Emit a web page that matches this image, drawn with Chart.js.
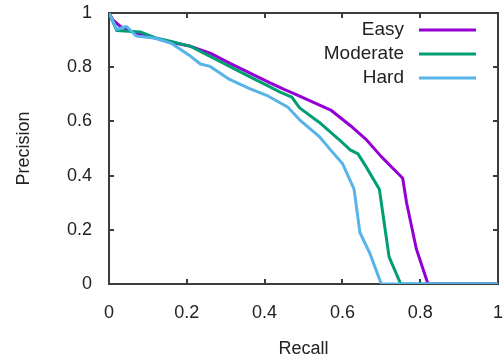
<!DOCTYPE html>
<html>
<head>
<meta charset="utf-8">
<script src="https://cdn.jsdelivr.net/npm/chart.js@4"></script>
<style>
  html, body { margin: 0; padding: 0; background: #fff; }
  #wrap { width: 503px; height: 361px; }
</style>
</head>
<body>
<div id="wrap"><canvas id="prChart" width="503" height="361"></canvas></div>
<script>
// Precision / recall curves
const easyRecall = [0, 0.01, 0.03, 0.06, 0.10, 0.15, 0.21, 0.26, 0.31, 0.36, 0.41, 0.45, 0.48, 0.51, 0.57, 0.62, 0.66, 0.70, 0.745, 0.755, 0.765, 0.79, 0.82, 1.0];
const easyPrecision = [1.0, 0.975, 0.95, 0.93, 0.915, 0.895, 0.877, 0.852, 0.815, 0.78, 0.745, 0.718, 0.70, 0.68, 0.642, 0.585, 0.535, 0.47, 0.405, 0.39, 0.30, 0.13, 0.0, 0.0];

const moderateRecall = [0, 0.02, 0.08, 0.12, 0.16, 0.21, 0.26, 0.31, 0.36, 0.41, 0.44, 0.47, 0.49, 0.54, 0.59, 0.62, 0.64, 0.66, 0.695, 0.705, 0.72, 0.75, 1.0];
const moderatePrecision = [1.0, 0.935, 0.93, 0.908, 0.895, 0.877, 0.84, 0.803, 0.766, 0.73, 0.708, 0.69, 0.65, 0.597, 0.535, 0.495, 0.48, 0.435, 0.35, 0.25, 0.10, 0.0, 0.0];

const hardRecall = [0, 0.02, 0.045, 0.07, 0.12, 0.16, 0.21, 0.235, 0.26, 0.31, 0.36, 0.41, 0.46, 0.49, 0.54, 0.57, 0.60, 0.63, 0.645, 0.67, 0.70, 1.0];
const hardPrecision = [1.0, 0.94, 0.95, 0.915, 0.907, 0.888, 0.84, 0.812, 0.803, 0.755, 0.722, 0.693, 0.652, 0.606, 0.545, 0.494, 0.445, 0.35, 0.19, 0.115, 0.0, 0.0];

const xTickValues = [0, 0.2, 0.4, 0.6, 0.8, 1];
const yTickValues = [0, 0.2, 0.4, 0.6, 0.8, 1];

const seriesNames = ['Easy', 'Moderate', 'Hard'];
const seriesColors = ['#9400d3', '#009e73', '#56b4e9'];

function toPoints(xs, ys) {
    return xs.map((x, i) => ({ x: x, y: ys[i] }));
}

const frameColor = '#3c3c3c';
const textColor = '#222';
const fontFamily = '"Liberation Sans", Arial, sans-serif';
const tickFont = { family: fontFamily, size: 18 };

// gnuplot style border with inward ticks on all four sides, snapped to whole pixels
function drawFrame(chart) {
    const c = chart.ctx;
    const a = chart.chartArea;
    const sx = chart.scales.x;
    const sy = chart.scales.y;
    const t = 4;
    const L = Math.round(a.left) - 1;
    const R = Math.round(a.right) - 1;
    const T = Math.round(a.top) - 1;
    const B = Math.round(a.bottom) - 1;
    c.save();
    c.fillStyle = frameColor;
    c.fillRect(L, T, R - L + 2, 2);
    c.fillRect(L, B, R - L + 2, 2);
    c.fillRect(L, T, 2, B - T + 2);
    c.fillRect(R, T, 2, B - T + 2);
    xTickValues.forEach(v => {
        const px = Math.round(sx.getPixelForValue(v)) - 1;
        c.fillRect(px, B - t, 2, t);
        c.fillRect(px, T + 2, 2, t);
    });
    yTickValues.forEach(v => {
        const py = Math.round(sy.getPixelForValue(v)) - 1;
        c.fillRect(L + 2, py, t, 2);
        c.fillRect(R - t, py, t, 2);
    });
    c.restore();
}

// legend: right aligned text followed by a line sample
function drawKey(chart) {
    const c = chart.ctx;
    c.save();
    c.font = '19px ' + fontFamily;
    c.textAlign = 'right';
    c.textBaseline = 'middle';
    chart.data.datasets.forEach((ds, i) => {
        const y = 30 + i * 24;
        c.fillStyle = textColor;
        c.fillText(ds.label, 404, y);
        c.strokeStyle = ds.borderColor;
        c.lineWidth = 3.2;
        c.beginPath();
        c.moveTo(419, y);
        c.lineTo(476, y);
        c.stroke();
    });
    c.restore();
}

const gnuplotLook = {
    id: 'gnuplotLook',
    beforeDatasetsDraw(chart) {
        drawFrame(chart);
    },
    afterDatasetsDraw(chart) {
        drawKey(chart);
    }
};

function noOverhang(scale) {
    scale.paddingTop = 0;
    scale.paddingBottom = 0;
    scale.paddingLeft = 0;
    scale.paddingRight = 0;
}

const ctx = document.getElementById('prChart').getContext('2d');
new Chart(ctx, {
    type: 'line',
    data: {
        datasets: [
            { label: seriesNames[0], data: toPoints(easyRecall, easyPrecision), borderColor: seriesColors[0], order: 3 },
            { label: seriesNames[1], data: toPoints(moderateRecall, moderatePrecision), borderColor: seriesColors[1], order: 2 },
            { label: seriesNames[2], data: toPoints(hardRecall, hardPrecision), borderColor: seriesColors[2], order: 1 }
        ]
    },
    options: {
        responsive: false,
        animation: false,
        devicePixelRatio: 1,
        layout: { padding: { top: 13, right: 5, left: 0, bottom: 0 } },
        elements: {
            line: { borderWidth: 3, tension: 0, fill: false, borderJoinStyle: 'round' },
            point: { radius: 0 }
        },
        plugins: {
            legend: { display: false },
            tooltip: { enabled: false }
        },
        scales: {
            x: {
                type: 'linear',
                min: 0,
                max: 1,
                grid: { display: false, drawTicks: false },
                border: { display: false },
                afterBuildTicks: (scale) => { scale.ticks = xTickValues.map(v => ({ value: v })); },
                afterFit: (scale) => { scale.height = 77; noOverhang(scale); },
                ticks: {
                    padding: 18,
                    color: textColor,
                    font: tickFont,
                    maxRotation: 0,
                    autoSkip: false,
                    callback: (v) => String(v)
                },
                title: {
                    display: true,
                    text: 'Recall',
                    color: textColor,
                    font: { family: fontFamily, size: 18 },
                    padding: { top: 0, bottom: 1 }
                }
            },
            y: {
                type: 'linear',
                min: 0,
                max: 1,
                grid: { display: false, drawTicks: false },
                border: { display: false },
                afterBuildTicks: (scale) => { scale.ticks = yTickValues.map(v => ({ value: v })); },
                afterFit: (scale) => { scale.width = 109; noOverhang(scale); },
                ticks: {
                    padding: 17,
                    color: textColor,
                    font: tickFont,
                    autoSkip: false,
                    callback: (v) => String(v)
                },
                title: {
                    display: true,
                    text: 'Precision',
                    color: textColor,
                    font: { family: fontFamily, size: 18 },
                    padding: { top: 13, bottom: 0 }
                }
            }
        }
    },
    plugins: [gnuplotLook]
});
</script>
</body>
</html>
